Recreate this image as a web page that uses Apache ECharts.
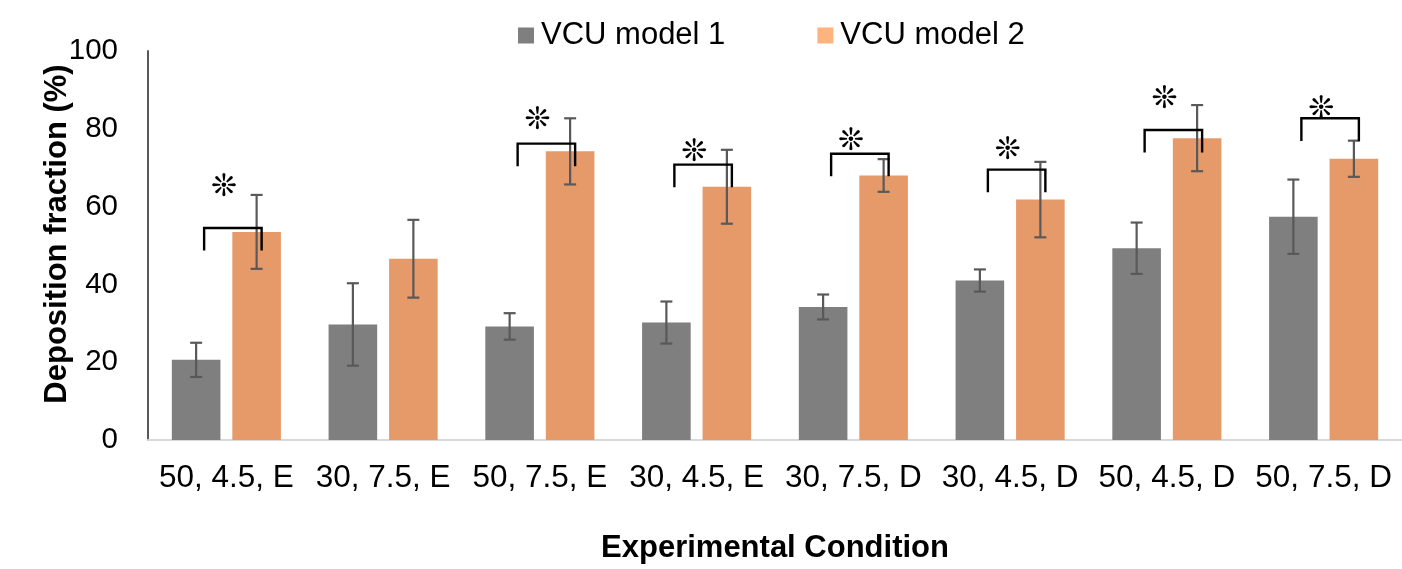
<!DOCTYPE html>
<html>
<head>
<meta charset="utf-8">
<script src="https://cdn.jsdelivr.net/npm/echarts@6/dist/echarts.min.js"></script>
<style>html,body{margin:0;padding:0;background:#fff}#c{width:1402px;height:569px}</style>
</head>
<body>
<div id="c"></div>
<script>
const categories = ['50, 4.5, E','30, 7.5, E','50, 7.5, E','30, 4.5, E','30, 7.5, D','30, 4.5, D','50, 4.5, D','50, 7.5, D'];
const model1 = [20.6, 29.7, 29.2, 30.2, 34.2, 41.0, 49.3, 57.4];
const model1Err = [4.4, 10.6, 3.4, 5.4, 3.2, 2.85, 6.6, 9.55];
const model2 = [53.5, 46.6, 74.2, 65.1, 68.0, 61.8, 77.6, 72.3];
const model2Err = [9.5, 10.0, 8.5, 9.5, 4.2, 9.7, 8.5, 4.65];
const sigBracket = [54.5, null, 76.2, 70.8, 73.6, 69.5, 79.7, 82.7];
const sigStar = [64.9, null, 82.1, 73.9, 76.7, 74.4, 87.3, 84.9];
const yTicks = [0, 20, 40, 60, 80, 100];
const seriesNames = ['VCU model 1', 'VCU model 2'];
const xTitle = 'Experimental Condition';
const yTitle = 'Deposition fraction (%)';

const FONT = '"Liberation Sans", Arial, sans-serif';
const BAR_FRAC = 0.31, GAP_FRAC = 0.245;

function errData(vals, errs) {
  return vals.map((v, i) => [i, v - errs[i], v + errs[i]]);
}
function errRender(sign) {
  return function (params, api) {
    const band = api.size([1, 0])[0];
    const off = sign * band * BAR_FRAC * (1 + GAP_FRAC) / 2;
    const lo = api.coord([api.value(0), api.value(1)]);
    const hi = api.coord([api.value(0), api.value(2)]);
    const x = lo[0] + off, cap = 6;
    const st = { stroke: '#595959', lineWidth: 2.2 };
    return { type: 'group', children: [
      { type: 'line', shape: { x1: x, y1: lo[1], x2: x, y2: hi[1] }, style: st },
      { type: 'line', shape: { x1: x - cap, y1: lo[1], x2: x + cap, y2: lo[1] }, style: st },
      { type: 'line', shape: { x1: x - cap, y1: hi[1], x2: x + cap, y2: hi[1] }, style: st }
    ]};
  };
}
const sigData = [];
sigBracket.forEach((b, i) => { if (b != null) sigData.push([i, b, sigStar[i]]); });

const option = {
  animation: false,
  backgroundColor: '#fff',
  legend: {
    top: 15, left: 513,
    itemWidth: 16, itemHeight: 16, itemGap: 92,
    icon: 'rect',
    textStyle: { fontFamily: FONT, fontSize: 31, color: '#000', padding: [0, 0, 0, 2] },
    data: [
      { name: seriesNames[0], itemStyle: { color: '#7f7f7f' } },
      { name: seriesNames[1], itemStyle: { color: '#ffb47f' } }
    ]
  },
  grid: { left: 148, top: 51, width: 1264, height: 390 },
  graphic: [
    { type: 'text', x: 57, y: 234, rotation: Math.PI / 2,
      style: { text: yTitle, fontFamily: FONT, fontSize: 31, fontWeight: 'bold', fill: '#000',
        align: 'center', verticalAlign: 'middle' } }
  ],
  xAxis: {
    type: 'category', data: categories,
    axisLine: { lineStyle: { color: '#d9d9d9', width: 2 } },
    axisTick: { show: false },
    axisLabel: { fontFamily: FONT, fontSize: 31.5, color: '#000', margin: 22, interval: 0 },
    name: xTitle, nameLocation: 'middle', nameGap: 93,
    nameTextStyle: { fontFamily: FONT, fontSize: 31, fontWeight: 'bold', color: '#000' }
  },
  yAxis: {
    type: 'value', min: 0, max: 100, interval: 20,
    axisLine: { show: true, lineStyle: { color: '#595959', width: 2 } },
    axisTick: { show: false },
    splitLine: { show: false },
    axisLabel: { fontFamily: FONT, fontSize: 29.5, color: '#000', margin: 30,
      formatter: v => yTicks.includes(v) ? String(v) : '' }
  },
  series: [
    { name: seriesNames[0], type: 'bar', data: model1, barWidth: (BAR_FRAC * 100) + '%', barGap: (GAP_FRAC * 100) + '%',
      itemStyle: { color: '#7f7f7f' } },
    { name: seriesNames[1], type: 'bar', data: model2, barWidth: (BAR_FRAC * 100) + '%',
      itemStyle: { color: '#e69a69' } },
    { type: 'custom', name: 'err1', data: errData(model1, model1Err), renderItem: errRender(-1), z: 5,
      encode: { x: 0, y: [1, 2] }, silent: true },
    { type: 'custom', name: 'err2', data: errData(model2, model2Err), renderItem: errRender(1), z: 5,
      encode: { x: 0, y: [1, 2] }, silent: true },
    { type: 'custom', name: 'sig', data: sigData, z: 6, silent: true,
      encode: { x: 0, y: [1, 2] },
      renderItem: function (params, api) {
        const band = api.size([1, 0])[0];
        const off = band * BAR_FRAC * (1 + GAP_FRAC) / 2;
        const top = api.coord([api.value(0), api.value(1)]);
        const star = api.coord([api.value(0), api.value(2)]);
        const xl = top[0] - off + 8, xr = top[0] + off + 5, leg = 22.6;
        const st = { stroke: '#000', lineWidth: 2.4, fill: null };
        return { type: 'group', children: [
          { type: 'polyline', shape: { points: [[xl, top[1] + leg], [xl, top[1]], [xr, top[1]], [xr, top[1] + leg]] }, style: st },
          { type: 'text', x: (xl + xr) / 2 - 9, y: star[1],
            style: { text: '❊', fontFamily: '"DejaVu Sans"', fontSize: 31, fill: '#000', align: 'center', verticalAlign: 'middle' } }
        ]};
      }
    }
  ]
};
echarts.init(document.getElementById('c')).setOption(option);
</script>
</body>
</html>
